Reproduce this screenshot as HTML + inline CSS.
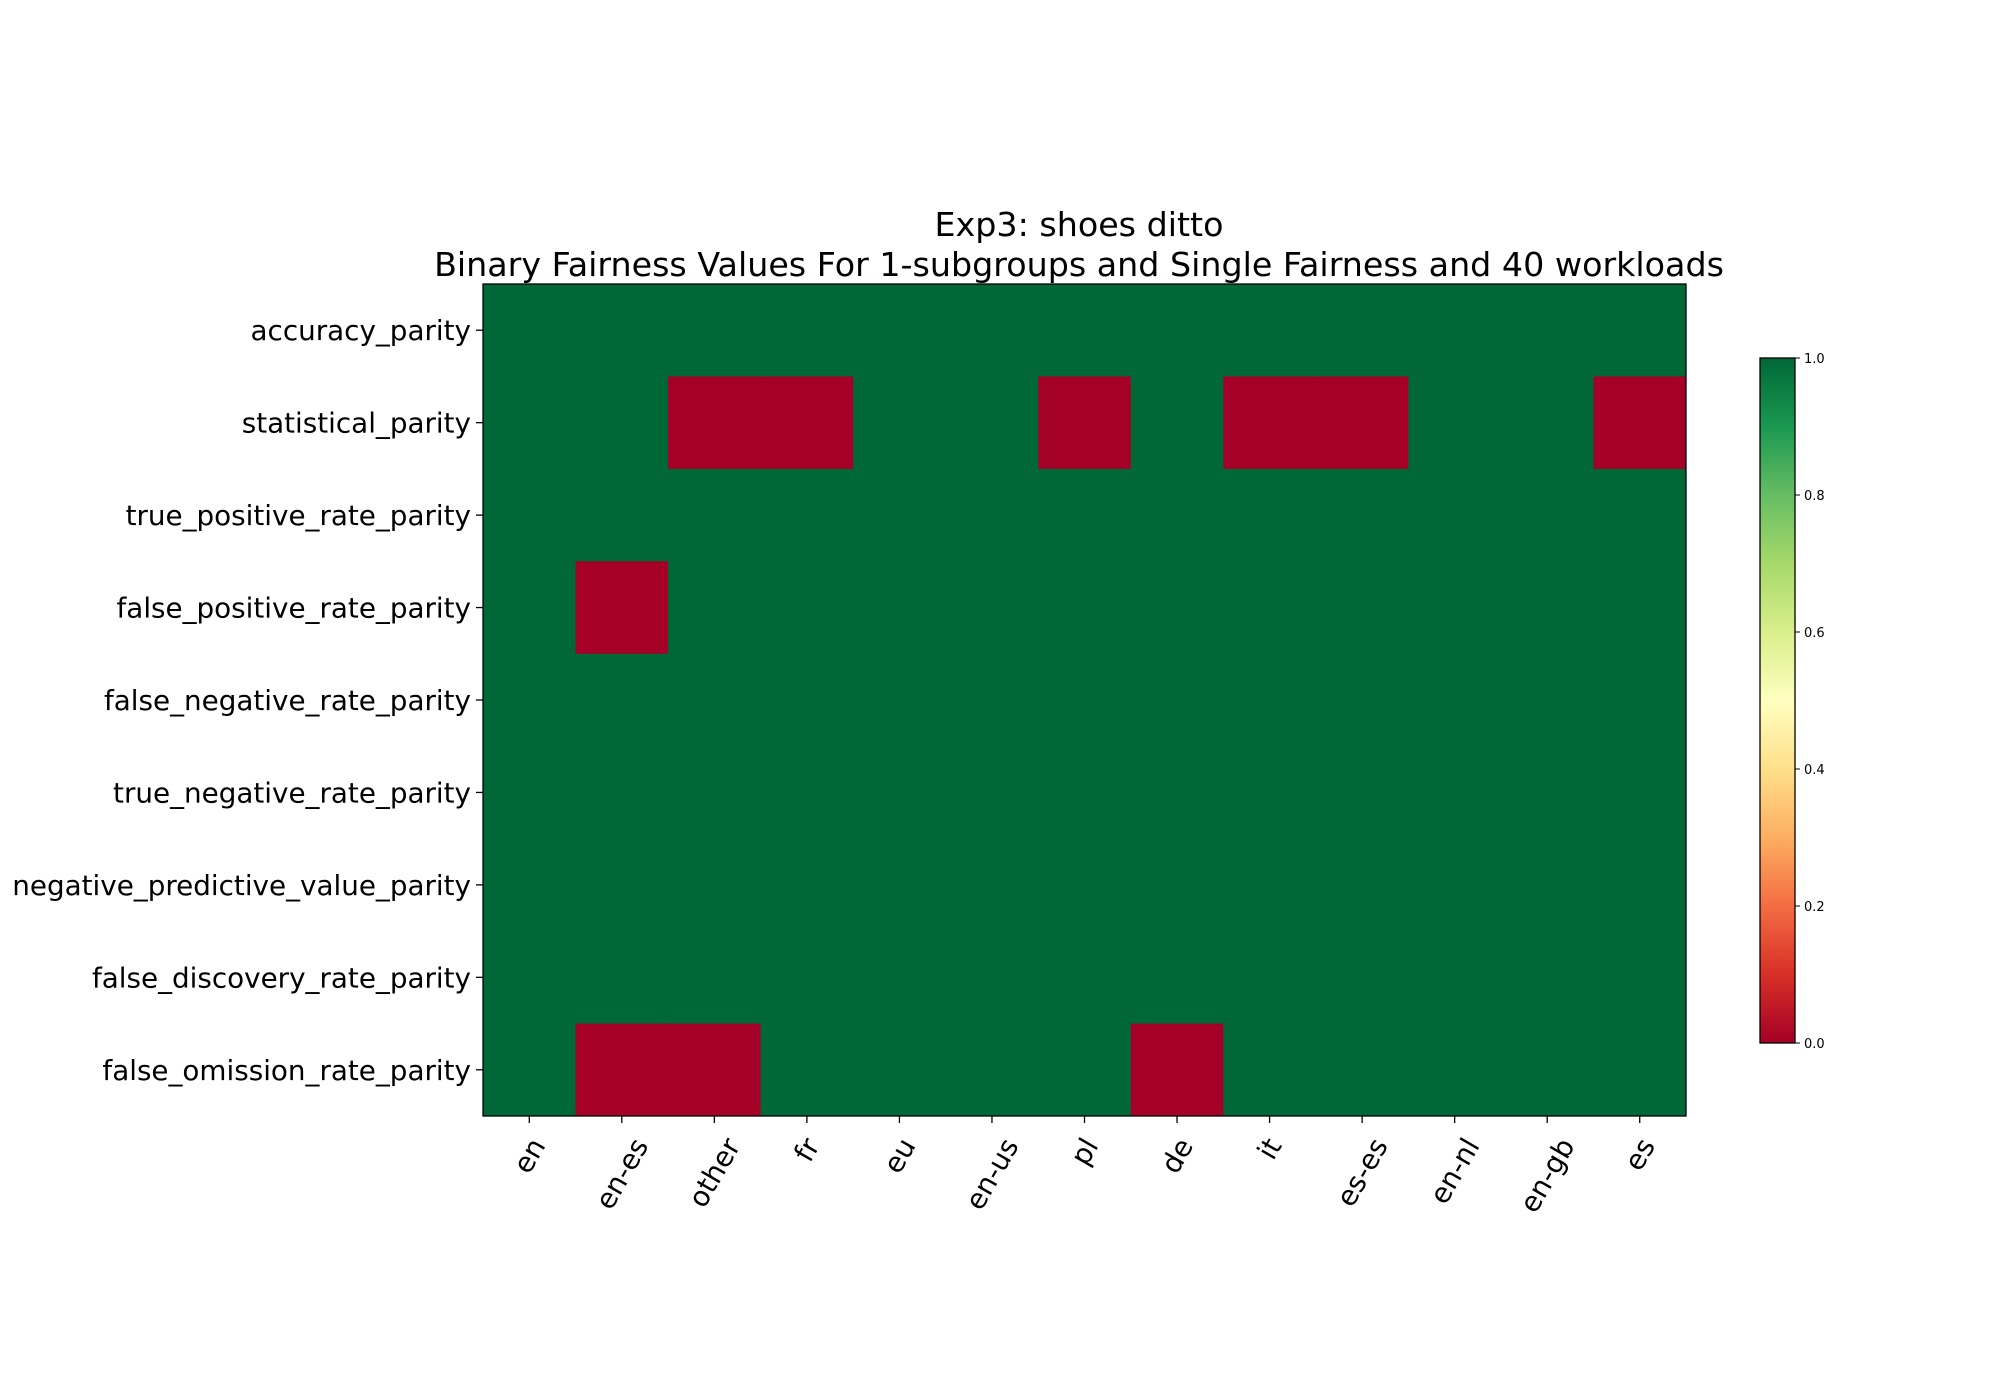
<!DOCTYPE html>
<html><head><meta charset="utf-8"><style>
html,body{margin:0;padding:0;background:#fff;}
svg{display:block;font-family:"DejaVu Sans","Liberation Sans",sans-serif;}
</style></head><body>
<svg id="chart" width="2000" height="1400" viewBox="0 0 2000 1400">
<defs>
<linearGradient id="rdylgn" x1="0" y1="1" x2="0" y2="0">
<stop offset="0" stop-color="#a50026"/><stop offset="0.1" stop-color="#d73027"/>
<stop offset="0.2" stop-color="#f46d43"/><stop offset="0.3" stop-color="#fdae61"/>
<stop offset="0.4" stop-color="#fee08b"/><stop offset="0.5" stop-color="#ffffbf"/>
<stop offset="0.6" stop-color="#d9ef8b"/><stop offset="0.7" stop-color="#a6d96a"/>
<stop offset="0.8" stop-color="#66bd63"/><stop offset="0.9" stop-color="#1a9850"/>
<stop offset="1" stop-color="#006837"/>
</linearGradient>
</defs>
<text x="1079" y="236" text-anchor="middle" font-size="33.3">Exp3: shoes ditto</text>
<text x="1079" y="276" text-anchor="middle" font-size="33.3">Binary Fairness Values For 1-subgroups and Single Fairness and 40 workloads</text>
<g id="cells"></g>
<rect x="483" y="284" width="1203" height="832" fill="none" stroke="#000" stroke-width="1.3"/>
<g id="yaxis"></g>
<g id="xaxis"></g>
<rect x="1760" y="358" width="35" height="685" fill="url(#rdylgn)" stroke="#000" stroke-width="1.3"/>
<g id="cbaxis"></g>
</svg>
<script>
const columns = ["en","en-es","other","fr","eu","en-us","pl","de","it","es-es","en-nl","en-gb","es"];
const rows = ["accuracy_parity","statistical_parity","true_positive_rate_parity","false_positive_rate_parity","false_negative_rate_parity","true_negative_rate_parity","negative_predictive_value_parity","false_discovery_rate_parity","false_omission_rate_parity"];
const row0 = [1,1,1,1,1,1,1,1,1,1,1,1,1];
const row1 = [1,1,0,0,1,1,0,1,0,0,1,1,0];
const row2 = [1,1,1,1,1,1,1,1,1,1,1,1,1];
const row3 = [1,0,1,1,1,1,1,1,1,1,1,1,1];
const row4 = [1,1,1,1,1,1,1,1,1,1,1,1,1];
const row5 = [1,1,1,1,1,1,1,1,1,1,1,1,1];
const row6 = [1,1,1,1,1,1,1,1,1,1,1,1,1];
const row7 = [1,1,1,1,1,1,1,1,1,1,1,1,1];
const row8 = [1,0,0,1,1,1,1,0,1,1,1,1,1];
const values = [row0,row1,row2,row3,row4,row5,row6,row7,row8];
const cbTicks = [0,0.2,0.4,0.6,0.8,1.0];
const cbTickLabels = ["0.0","0.2","0.4","0.6","0.8","1.0"];

const NS = "http://www.w3.org/2000/svg";
const X0=483, X1=1686, Y0=284, Y1=1116;
const cw=(X1-X0)/columns.length, ch=(Y1-Y0)/rows.length;
const xPos = i => X0 + i*cw;
const yPos = j => Y0 + j*ch;
const CB0=1043, CB1=358;
const cbY = v => CB0 + (CB1-CB0)*v;
function color(v){
  const stops=[[165,0,38],[215,48,39],[244,109,67],[253,174,97],[254,224,139],[255,255,191],[217,239,139],[166,217,106],[102,189,99],[26,152,80],[0,104,55]];
  const t=Math.max(0,Math.min(1,v))*10, i=Math.min(9,Math.floor(t)), f=t-i;
  const c=stops[i].map((a,k)=>Math.round(a+(stops[i+1][k]-a)*f));
  return `rgb(${c[0]},${c[1]},${c[2]})`;
}
function mk(tag, attrs, parent){
  const e=document.createElementNS(NS,tag);
  for(const k in attrs) e.setAttribute(k, attrs[k]);
  parent.appendChild(e); return e;
}
const cells=document.getElementById('cells');
values.forEach((r,j)=>r.forEach((v,i)=>{
  const el=mk('rect',{x:xPos(i),y:yPos(j),width:cw+0.5,height:ch+0.5,fill:color(v)},cells);
  
  
}));
const fs=27.8;
const ya=document.getElementById('yaxis');
rows.forEach((r,j)=>{
  const y=yPos(j)+ch/2;
  const tk=mk('line',{x1:X0-7,x2:X0,y1:y,y2:y,stroke:'#000','stroke-width':1.3},ya);
  
  
  const t=mk('text',{x:X0-12,y:y+10,'text-anchor':'end','font-size':fs},ya);
  t.textContent=r;
  
  
});
const xa=document.getElementById('xaxis');
const s60=Math.sin(Math.PI/3), c60=Math.cos(Math.PI/3);
columns.forEach((c,i)=>{
  const x=xPos(i)+cw/2;
  const tk=mk('line',{x1:x,x2:x,y1:Y1,y2:Y1+7,stroke:'#000','stroke-width':1.3},xa);
  
  
  const t=mk('text',{x:0,y:0,'text-anchor':'middle','dominant-baseline':'central','font-size':fs},xa);
  t.textContent=c;
  
  
  const w=t.getComputedTextLength();
  const h=w*s60+fs*1.1*c60;
  t.setAttribute('transform',`translate(${x},${Y1+17+h/2}) rotate(-60)`);
});
const cba=document.getElementById('cbaxis');
cbTicks.forEach((v,k)=>{
  const y=cbY(v);
  const tk=mk('line',{x1:1795,x2:1800,y1:y,y2:y,stroke:'#000','stroke-width':1},cba);
  
  
  const t=mk('text',{x:1804,y:y+5,'font-size':13},cba);
  t.textContent=cbTickLabels[k];
  
  
});
</script>
</body></html>
